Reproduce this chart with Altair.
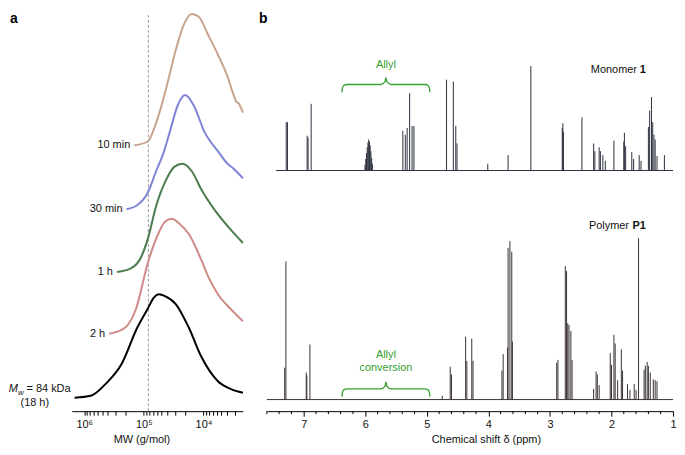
import altair as alt
import pandas as pd

FONT = "Liberation Sans"
GREEN = "#34a02f"

# ---------------- Panel a : GPC traces (MW in g/mol, trace height) ----------------
gpc_names = ["10 min", "30 min", "1 h", "2 h", "18 h"]
gpc_colors = ["#c6a48d", "#7e84d6", "#4b7c4f", "#cf8986", "#000000"]

tan_mw = [145000, 86100, 61700, 42600, 29400, 21000, 15600, 12000, 8300, 5730, 3950, 3160, 2800, 2630, 2180]
tan_h = [275, 279, 299, 333, 373, 401, 411, 408, 389, 369, 346, 328, 320, 319, 309]

blue_mw = [195000, 130000, 86100, 61700, 47600, 36700, 27200, 20300, 14500, 9630, 5730, 3950, 3160, 2180]
blue_h = [209, 213, 226, 249, 266, 289, 316, 327, 316, 289, 269, 256, 251, 241]

green_mw = [283000, 162000, 112000, 86100, 61700, 42600, 30500, 22600, 15600, 10800, 6650, 3530, 2180]
green_h = [144, 148, 159, 178, 213, 239, 253, 256, 248, 229, 209, 188, 174]

pink_mw = [381000, 210000, 135000, 86100, 61700, 44200, 34100, 25300, 17500, 10800, 8300, 5730, 3530, 2180]
pink_h = [80, 86, 106, 153, 179, 196, 199, 194, 183, 156, 139, 121, 106, 93]

black_mw = [1450000, 771000, 441000, 235000, 130000, 86100, 69000, 55200, 44200, 29400, 17500, 10800, 5730, 3530, 2180]
black_h = [14, 16, 28, 49, 86, 106, 117, 121, 119, 111, 86, 56, 31, 23, 19]

gpc_mw = [tan_mw, blue_mw, green_mw, pink_mw, black_mw]
gpc_h = [tan_h, blue_h, green_h, pink_h, black_h]

mw_line = [84000]          # Mw = 84 kDa marker
mw_domain = [2180, 1620000]
mw_ticks = [1000000, 900000, 800000, 700000, 600000, 500000, 400000, 300000, 200000,
            100000, 90000, 80000, 70000, 60000, 50000, 40000, 30000, 20000,
            10000, 9000, 8000, 7000, 6000, 5000, 4000, 3000]
mw_major = [1000000, 100000, 10000]
mw_major_labels = ["10⁶", "10⁵", "10⁴"]

# ---------------- Panel b : 1H NMR (ppm, peak height) ----------------
mono_ppm = [7.285, 7.265, 6.945, 6.93, 6.88,
            6.005, 5.993, 5.981, 5.969, 5.957, 5.945, 5.933, 5.921, 5.909, 5.897, 5.885,
            5.39, 5.35, 5.32, 5.28, 5.24, 5.21,
            4.68, 4.57, 4.53, 4.51, 4.01, 3.68, 3.31,
            2.80, 2.79, 2.78, 2.48, 2.29, 2.27, 2.20, 2.18, 2.14, 2.10, 1.96,
            1.80, 1.79, 1.77, 1.67, 1.64, 1.55, 1.52,
            1.40, 1.38, 1.35, 1.33, 1.31, 1.29, 1.26, 1.14]
mono_h = [50, 50, 36, 34, 69,
          6, 12, 18, 24, 29, 32, 30, 26, 20, 13, 7,
          41, 37, 44, 80, 46, 46,
          94, 92, 46, 28, 7, 16, 108,
          44, 49, 40, 55, 28, 20, 24, 20, 16, 10, 31,
          30, 39, 25, 19, 12, 16, 10,
          45, 62, 76, 50, 37, 32, 15, 16]

poly_ppm = [7.31, 7.29, 6.96, 6.95, 6.90, 4.75, 4.62, 4.60, 4.37, 4.35, 4.27, 4.25,
            3.78, 3.76, 3.69, 3.68, 3.65, 3.62, 3.61, 2.89, 2.87,
            2.75, 2.73, 2.71, 2.69, 2.66, 2.64, 2.29, 2.25, 2.23, 2.20,
            2.02, 2.00, 1.96, 1.94, 1.90, 1.84, 1.82, 1.74, 1.70, 1.63, 1.60, 1.56,
            1.47, 1.45, 1.42, 1.40, 1.37, 1.32, 1.29, 1.26]
poly_h = [33, 143, 28, 25, 57, 4, 34, 26, 65, 40, 63, 40,
          30, 47, 54, 157, 164, 153, 60, 38, 41,
          138, 133, 79, 77, 71, 41, 11, 29, 26, 15,
          48, 36, 67, 58, 20, 52, 30, 16, 10, 16, 10, 167,
          31, 35, 39, 35, 28, 21, 20, 19]

spec_colors = ["#2c3040", "#3a3232"]
spec_base = [249, 12]
spec_start = [7.45, 7.6]
spec_end = [1.0, 1.0]
spec_label_y = [353, 192]
spec_label_ppm = 1.44
spec_label_text = ["Monomer", "Polymer"]
spec_label_bold = ["1", "P1"]

ppm_domain = [1.0, 7.6]
ppm_major = [7, 6, 5, 4, 3, 2, 1]
ppm_minor = [7.6, 7.4, 7.2, 6.8, 6.6, 6.4, 6.2, 5.8, 5.6, 5.4, 5.2, 4.8, 4.6, 4.4, 4.2,
             3.8, 3.6, 3.4, 3.2, 2.8, 2.6, 2.4, 2.2, 1.8, 1.6, 1.4, 1.2]

brace_left, brace_right = 6.38, 4.95
brace_levels = [338, 23]
brace_text = [["Allyl"], ["Allyl", "conversion"]]
brace_text_y = [[358], [58, 45]]
# brace outline profile: fraction along the span, offset from the level
brace_f = [0, 0.005, 0.02, 0.055, 0.44, 0.49, 0.5, 0.51, 0.56, 0.945, 0.98, 0.995, 1]
brace_dy = [-8, -4, -1, 0, 0, 3, 7, 3, 0, 0, -1, -4, -8]

W1, W2, H = 172, 408, 400
YDOM = [0, 412]

label_expr_a = " : ".join(f"datum.value == {v} ? '{t}'" for v, t in zip(mw_major, mw_major_labels)) + " : ''"
x_axis_a = alt.Axis(values=mw_ticks, labelExpr=label_expr_a, title="MW (g/mol)",
                    grid=False, tickSize=4, labelOverlap=False, labelFlush=False,
                    labelPadding=3, titlePadding=4, titleX=70)
xa = alt.X("mw:Q", scale=alt.Scale(type="log", domain=mw_domain, reverse=True, nice=False),
           axis=x_axis_a)


def ya(field):
    return alt.Y(field, scale=alt.Scale(domain=YDOM, nice=False, zero=False), axis=None)


def one(x, y, t):
    return pd.DataFrame({"mw": [x], "ppm": [x], "y": [y], "t": [t]})


def piece(d, xfield, dx, dy, size=11, style="normal", align="right", weight="normal", color="#111"):
    return alt.Chart(d).mark_text(align=align, baseline="middle", dx=dx, dy=dy, fontSize=size,
                                  fontStyle=style, fontWeight=weight, font=FONT, color=color).encode(
        x=xfield, y=ya("y:Q"), text="t:N")


# ---- left panel layers ----
curve_layers = []
for name, mws, hs, col in zip(gpc_names, gpc_mw, gpc_h, gpc_colors):
    d = pd.DataFrame({"mw": mws, "y": hs})
    curve_layers.append(alt.Chart(d).mark_line(strokeWidth=2, interpolate="monotone", color=col).encode(
        x=xa, y=ya("y:Q")))

dash_df = pd.DataFrame({"mw": mw_line, "y": [0], "y1": [411]})
dash = alt.Chart(dash_df).mark_rule(strokeDash=[3, 2], color="#9a9a9a", strokeWidth=1).encode(
    x=xa, y=ya("y:Q"), y2="y1:Q")

lab_layers = [piece(one(m[0], h[0], n), "mw:Q", -4, 0)
              for n, m, h in zip(gpc_names[:4], gpc_mw[:4], gpc_h[:4])]

mw1 = piece(one(black_mw[0], black_h[0], "= 84 kDa"), "mw:Q", -4, -9)
mw2 = piece(one(black_mw[0], black_h[0], "w"), "mw:Q", -51, -5, 8, "italic")
mw3 = piece(one(black_mw[0], black_h[0], "M"), "mw:Q", -57, -9, 11, "italic")
mw4 = piece(one(black_mw[0], black_h[0], "(18 h)"), "mw:Q", -40, 5, 11, "normal", "center")
letter_a = piece(one(mw_domain[1], YDOM[1], "a"), "mw:Q", -62, 6, 14, "normal", "left", "bold", "#000")

left = alt.layer(*([dash] + curve_layers + lab_layers + [mw1, mw2, mw3, mw4, letter_a])).properties(
    width=W1, height=H)

# ---- right panel layers ----
x_axis_b = alt.Axis(values=ppm_major, format="d",
                    title="Chemical shift δ (ppm)", grid=False, tickSize=5, labelOverlap=False,
                    labelFlush=False, labelPadding=2, titlePadding=4, titleX=220)
xb = alt.X("ppm:Q", scale=alt.Scale(domain=ppm_domain, reverse=True, nice=False, zero=False),
           axis=x_axis_b)

spec_layers = []
for ppms, hs, b, s0, s1, col in zip([mono_ppm, poly_ppm], [mono_h, poly_h], spec_base,
                                    spec_start, spec_end, spec_colors):
    bd = pd.DataFrame({"ppm": [s0], "p1": [s1], "y": [b]})
    spec_layers.append(alt.Chart(bd).mark_rule(strokeWidth=1, color=col).encode(
        x=xb, x2="p1:Q", y=ya("y:Q")))
    pdf = pd.DataFrame({"ppm": ppms, "y": [b] * len(ppms), "y1": [b + h for h in hs]})
    spec_layers.append(alt.Chart(pdf).mark_rule(strokeWidth=1, color=col).encode(
        x=xb, y=ya("y:Q"), y2="y1:Q"))

minor_df = pd.DataFrame({"ppm": ppm_minor})
minor = alt.Chart(minor_df).mark_rule(strokeWidth=1, color="#000").encode(
    x=xb, y=alt.value(H), y2=alt.value(H + 3))

brace_layers = []
for lev, txts, yy in zip(brace_levels, brace_text, brace_text_y):
    bdf = pd.DataFrame({"ppm": [brace_left + f * (brace_right - brace_left) for f in brace_f],
                        "y": [lev + d for d in brace_dy]})
    brace_layers.append(alt.Chart(bdf).mark_line(strokeWidth=1.3, color=GREEN, interpolate="monotone").encode(
        x=xb, y=ya("y:Q")))
    for t, y in zip(txts, yy):
        brace_layers.append(piece(one((brace_left + brace_right) / 2, y, t), "ppm:Q", 0, 0, 11,
                                  "normal", "center", "normal", GREEN))

text_b = []
for t, bt, y, dx in zip(spec_label_text, spec_label_bold, spec_label_y, [-9, -17]):
    text_b.append(piece(one(spec_label_ppm, y, bt), "ppm:Q", 0, 0, 11, "normal", "right", "bold"))
    text_b.append(piece(one(spec_label_ppm, y, t), "ppm:Q", dx, 0))
letter_b = piece(one(ppm_domain[1], YDOM[1], "b"), "ppm:Q", -8, 6, 14, "normal", "left", "bold", "#000")

right = alt.layer(*(spec_layers + [minor] + brace_layers + text_b + [letter_b])).properties(width=W2, height=H)

chart = alt.hconcat(left, right, spacing=12).properties(padding=0).configure_view(stroke=None).configure_axis(
    labelFont=FONT, titleFont=FONT, labelFontSize=11, titleFontSize=11, titleFontWeight="normal",
    labelColor="#111", titleColor="#111", domainColor="#000", tickColor="#000")

chart.save("out.html", embed_options={"renderer": "svg", "actions": False})
